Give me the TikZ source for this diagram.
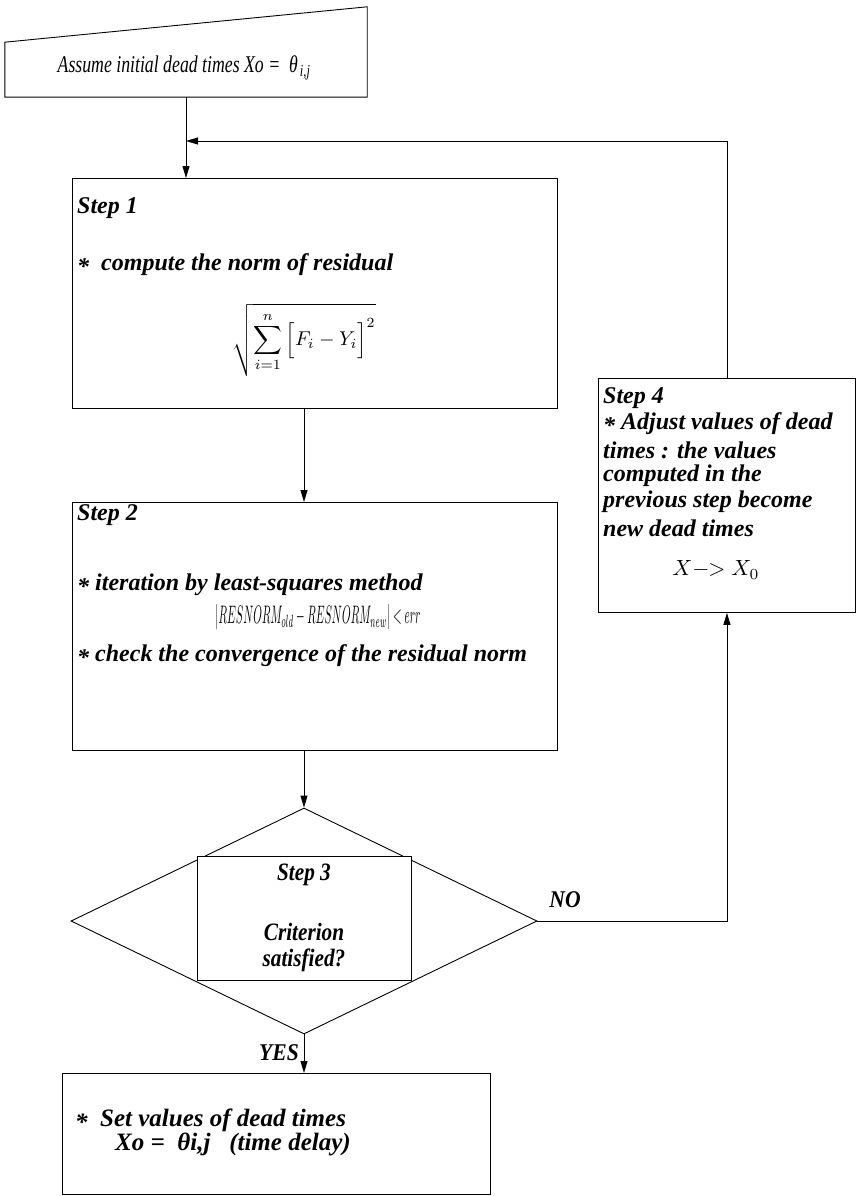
\documentclass[tikz,border=0pt]{standalone}
\usepackage{fontspec}
\setmainfont{Liberation Serif}
\usepackage{amsmath}
\usepackage{graphicx}
\usetikzlibrary{arrows.meta,shapes.geometric,calc}
\begin{document}
\begin{tikzpicture}[x=1pt,y=-1pt,
  box/.style={draw,line width=0.9pt,inner sep=0pt,anchor=north west},
  arr/.style={line width=0.9pt,-{Triangle[length=12pt,width=7pt]}},
  bi/.style={font=\fontsize{24}{26}\selectfont\bfseries\itshape,anchor=west,inner sep=0pt,align=left},
  ci/.style={font=\fontsize{25}{28}\selectfont\bfseries\itshape,anchor=center,inner sep=0pt},
  lbl/.style={font=\fontsize{24}{26}\selectfont\bfseries\itshape,inner sep=0pt}
]
\useasboundingbox (0,0) rectangle (860,1196);

% start (manual input)
\node[minimum width=362pt,minimum height=90pt,inner sep=0pt] (start) at (186,52) {};
\draw[line width=0.9pt] ($(start.south west)+(0,-55)$) -- (start.north east) -- (start.south east) -- (start.south west) -- cycle;
\node[font=\fontsize{24}{26}\selectfont\itshape,inner sep=0pt] (starttxt) at (184,68)
  {\scalebox{0.74}[1]{Assume initial dead times Xo =\ \ θ\textsubscript{\,i,j}}};

% step 1
\node[box,minimum width=485pt,minimum height=230pt] (s1) at (72,178) {};
\node[bi] (s1a) at (77,208) {Step 1};
\node[bi] (s1b) at (77,265) {\raisebox{-0.35ex}{*}\ \ compute the norm of residual};
\node[inner sep=0pt] (s1f) at (304,340) {\scalebox{2.0}{$\displaystyle\sqrt{\sum_{i=1}^{n}\Big[F_i-Y_i\Big]^{2}}$}};

% step 2
\node[box,minimum width=485pt,minimum height=248pt] (s2) at (72,502) {};
\node[bi] (s2a) at (77,515) {Step 2};
\node[bi] (s2b) at (77,585) {\raisebox{-0.35ex}{*}\ iteration by least-squares method};
\node[inner sep=0pt] (s2f) at (318,617) {\resizebox{205pt}{19pt}{$\left|RESNORM_{old}-RESNORM_{new}\right|<err$}};
\node[bi] (s2c) at (77,656) {\raisebox{-0.35ex}{*}\ check the convergence of the residual norm};

% step 3 decision
\node[diamond,draw,line width=0.9pt,minimum width=466pt,minimum height=226pt,inner sep=0pt] (dia) at (304,921) {};
\node[draw,fill=white,line width=0.9pt,minimum width=214pt,minimum height=124pt,inner sep=0pt] (s3) at (304,918) {};
\node[ci] (s3a) at (304,875) {\scalebox{0.85}[1]{Step 3}};
\node[ci] (s3b) at (304,932) {\scalebox{0.85}[1]{Criterion}};
\node[ci] (s3c) at (304,960) {\scalebox{0.85}[1]{satisfied?}};
\node[lbl] (no) at (565,900) {\scalebox{0.9}[1]{NO}};
\node[lbl] (yes) at (279,1053) {\scalebox{0.9}[1]{YES}};

% step 4
\node[box,minimum width=257pt,minimum height=234pt] (s4) at (598,378) {};
\node[bi] (s4a) at (603,398) {Step 4};
\node[bi] (s4b) at (603,424) {\raisebox{-0.35ex}{*} Adjust values of dead};
\node[bi] (s4c) at (603,450) {times : the values};
\node[bi] (s4d) at (603,476) {computed in the};
\node[bi] (s4e) at (603,502) {previous step become};
\node[bi] (s4f) at (603,528) {new dead times};
\node[inner sep=0pt] (s4g) at (716,570) {\scalebox{2.2}{$X{-}\!\!>X_0$}};

% final
\node[box,minimum width=428pt,minimum height=121pt] (fin) at (62,1073) {};
\node[bi,font=\fontsize{25}{27}\selectfont\bfseries\itshape] (fina) at (75,1120) {\raisebox{-0.35ex}{*}\ \ Set values of dead times};
\node[bi,font=\fontsize{25}{27}\selectfont\bfseries\itshape] (finb) at (115,1144) {Xo =\ \ θi,j\ \ \ (time delay)};

% connectors
\coordinate (fb) at (186,141);
\draw[arr] (start.south) -- (start.south |- s1.north);
\draw[arr] (dia.north |- s1.south) -- (dia.north |- s2.north);
\draw[arr] (dia.north |- s2.south) -- (dia.north);
\draw[arr] (dia.east) -| (s4.south);
\draw[arr] (s4.north) |- (fb);
\draw[arr] (dia.south) -- (dia.south |- fin.north);
\end{tikzpicture}
\end{document}
